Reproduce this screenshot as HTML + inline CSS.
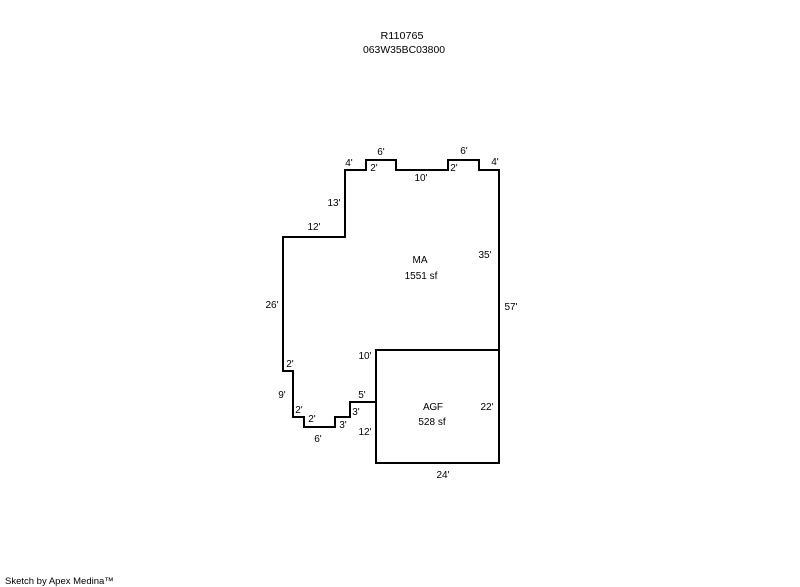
<!DOCTYPE html>
<html>
<head>
<meta charset="utf-8">
<style>
html,body{margin:0;padding:0;background:#fff;width:800px;height:587px;overflow:hidden}
svg{display:block}
text{font-family:"Liberation Sans",Arial,sans-serif;font-size:10px;fill:#000;text-anchor:middle}
</style>
</head>
<body>
<svg width="800" height="587" viewBox="0 0 800 587" xmlns="http://www.w3.org/2000/svg">
<g fill="none" stroke="#000" stroke-width="2" shape-rendering="crispEdges">
<path d="M376 402H350V417H335V427H304V417H293V371H283V237H345V170H366V160H396V170H448V160H479V170H499V350"/>
<rect x="376" y="350" width="123" height="113"/>
</g>
<text x="402" y="39" textLength="43" lengthAdjust="spacingAndGlyphs">R110765</text>
<text x="404" y="53" textLength="82" lengthAdjust="spacingAndGlyphs">063W35BC03800</text>
<text x="381" y="155">6'</text>
<text x="464" y="154">6'</text>
<text x="349" y="166">4'</text>
<text x="495" y="165">4'</text>
<text x="374" y="171">2'</text>
<text x="454" y="171">2'</text>
<text x="421" y="181">10'</text>
<text x="334" y="206">13'</text>
<text x="314" y="230">12'</text>
<text x="420" y="263">MA</text>
<text x="421" y="279">1551 sf</text>
<text x="485" y="258">35'</text>
<text x="511" y="310">57'</text>
<text x="272" y="308">26'</text>
<text x="290" y="367">2'</text>
<text x="365" y="359">10'</text>
<text x="282" y="398">9'</text>
<text x="299" y="413">2'</text>
<text x="312" y="422">2'</text>
<text x="318" y="442">6'</text>
<text x="343" y="428">3'</text>
<text x="356" y="415">3'</text>
<text x="362" y="398">5'</text>
<text x="365" y="435">12'</text>
<text x="433" y="410" textLength="20" lengthAdjust="spacing">AGF</text>
<text x="432" y="425">528 sf</text>
<text x="487" y="410">22'</text>
<text x="443" y="478">24'</text>
<text x="5" y="584" style="text-anchor:start;font-size:9.5px">Sketch by Apex Medina™</text>
</svg>
</body>
</html>
